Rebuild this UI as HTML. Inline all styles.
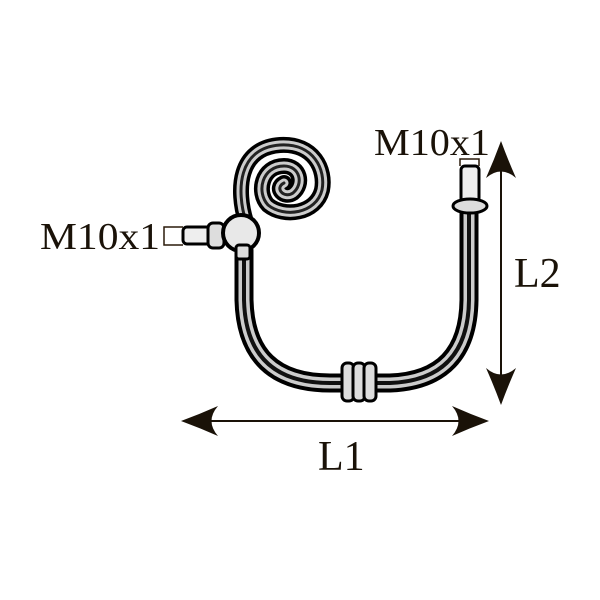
<!DOCTYPE html>
<html><head><style>
html,body{margin:0;padding:0;background:#fff;width:600px;height:600px;overflow:hidden}
text{font-family:"Liberation Serif",serif;fill:#1a1208}
</style></head><body>
<svg width="600" height="600" viewBox="0 0 600 600" xmlns="http://www.w3.org/2000/svg">
<g fill="none" stroke-linecap="round">
  <path d="M244,250 L244,300 Q246,383 330,383 L390,383 Q468,380 469,300 L469,212" stroke="#000" stroke-width="19"/>
  <path d="M244,250 L244,300 Q246,383 330,383 L390,383 Q468,380 469,300 L469,212" stroke="#ccc" stroke-width="11"/>
  <path d="M244,250 L244,300 Q246,383 330,383 L390,383 Q468,380 469,300 L469,212" stroke="#111" stroke-width="4"/>
  <path d="M246,222 C236,190 238,148 280,145 C314,143 326,170 322,190 C316,214 284,218 268,205 C256,192 262,166 284,166 C300,166 304,184 293,193 C284,199 274,188 284,183" stroke="#000" stroke-width="16"/>
  <path d="M246,222 C236,190 238,148 280,145 C314,143 326,170 322,190 C316,214 284,218 268,205 C256,192 262,166 284,166 C300,166 304,184 293,193 C284,199 274,188 284,183" stroke="#ccc" stroke-width="9"/>
  <path d="M246,222 C236,190 238,148 280,145 C314,143 326,170 322,190 C316,214 284,218 268,205 C256,192 262,166 284,166 C300,166 304,184 293,193 C284,199 274,188 284,183" stroke="#222" stroke-width="3"/>
</g>
<rect x="183" y="227" width="40" height="17" rx="4" fill="#eee" stroke="#000" stroke-width="3"/>
<rect x="208" y="223" width="16" height="25" rx="5" fill="#ddd" stroke="#000" stroke-width="3"/>
<circle cx="241" cy="233" r="18" fill="#e8e8e8" stroke="#000" stroke-width="4"/>
<rect x="236" y="245" width="14" height="14" rx="3" fill="#ddd" stroke="#000" stroke-width="3"/>
<rect x="461" y="166" width="18" height="40" rx="4" fill="#eee" stroke="#000" stroke-width="3"/>
<ellipse cx="470" cy="206" rx="17" ry="7" fill="#ddd" stroke="#000" stroke-width="3"/>
<g stroke="#000" stroke-width="3" fill="#ddd">
<rect x="342" y="363" width="12" height="38" rx="5"/>
<rect x="353" y="363" width="12" height="38" rx="5"/>
<rect x="364" y="363" width="12" height="38" rx="5"/>
</g>
<g stroke="#2a1a0a" stroke-width="1.5" fill="none">
<path d="M183,227 L164,227 L164,245 L183,245"/>
<path d="M460,166 L460,159 L479,159 L479,166"/>
</g>
<line x1="190" y1="421" x2="480" y2="421" stroke="#1a1208" stroke-width="2"/>
<path d="M181,421 Q200,414 218,406 Q205,421 218,436 Q200,428 181,421Z" fill="#1a1208"/>
<path d="M489,421 Q470,414 452,406 Q465,421 452,436 Q470,428 489,421Z" fill="#1a1208"/>
<line x1="501" y1="150" x2="501" y2="396" stroke="#1a1208" stroke-width="2"/>
<path d="M501,141 Q494,160 486,178 Q501,165 516,178 Q508,160 501,141Z" fill="#1a1208"/>
<path d="M501,405 Q494,386 486,368 Q501,381 516,368 Q508,386 501,405Z" fill="#1a1208"/>
<text x="40" y="249" font-size="38" textLength="120" lengthAdjust="spacingAndGlyphs">M10x1</text>
<text x="374" y="155" font-size="38" textLength="116" lengthAdjust="spacingAndGlyphs">M10x1</text>
<text x="514" y="287" font-size="42">L2</text>
<text x="318" y="470" font-size="42">L1</text>
</svg>
</body></html>
